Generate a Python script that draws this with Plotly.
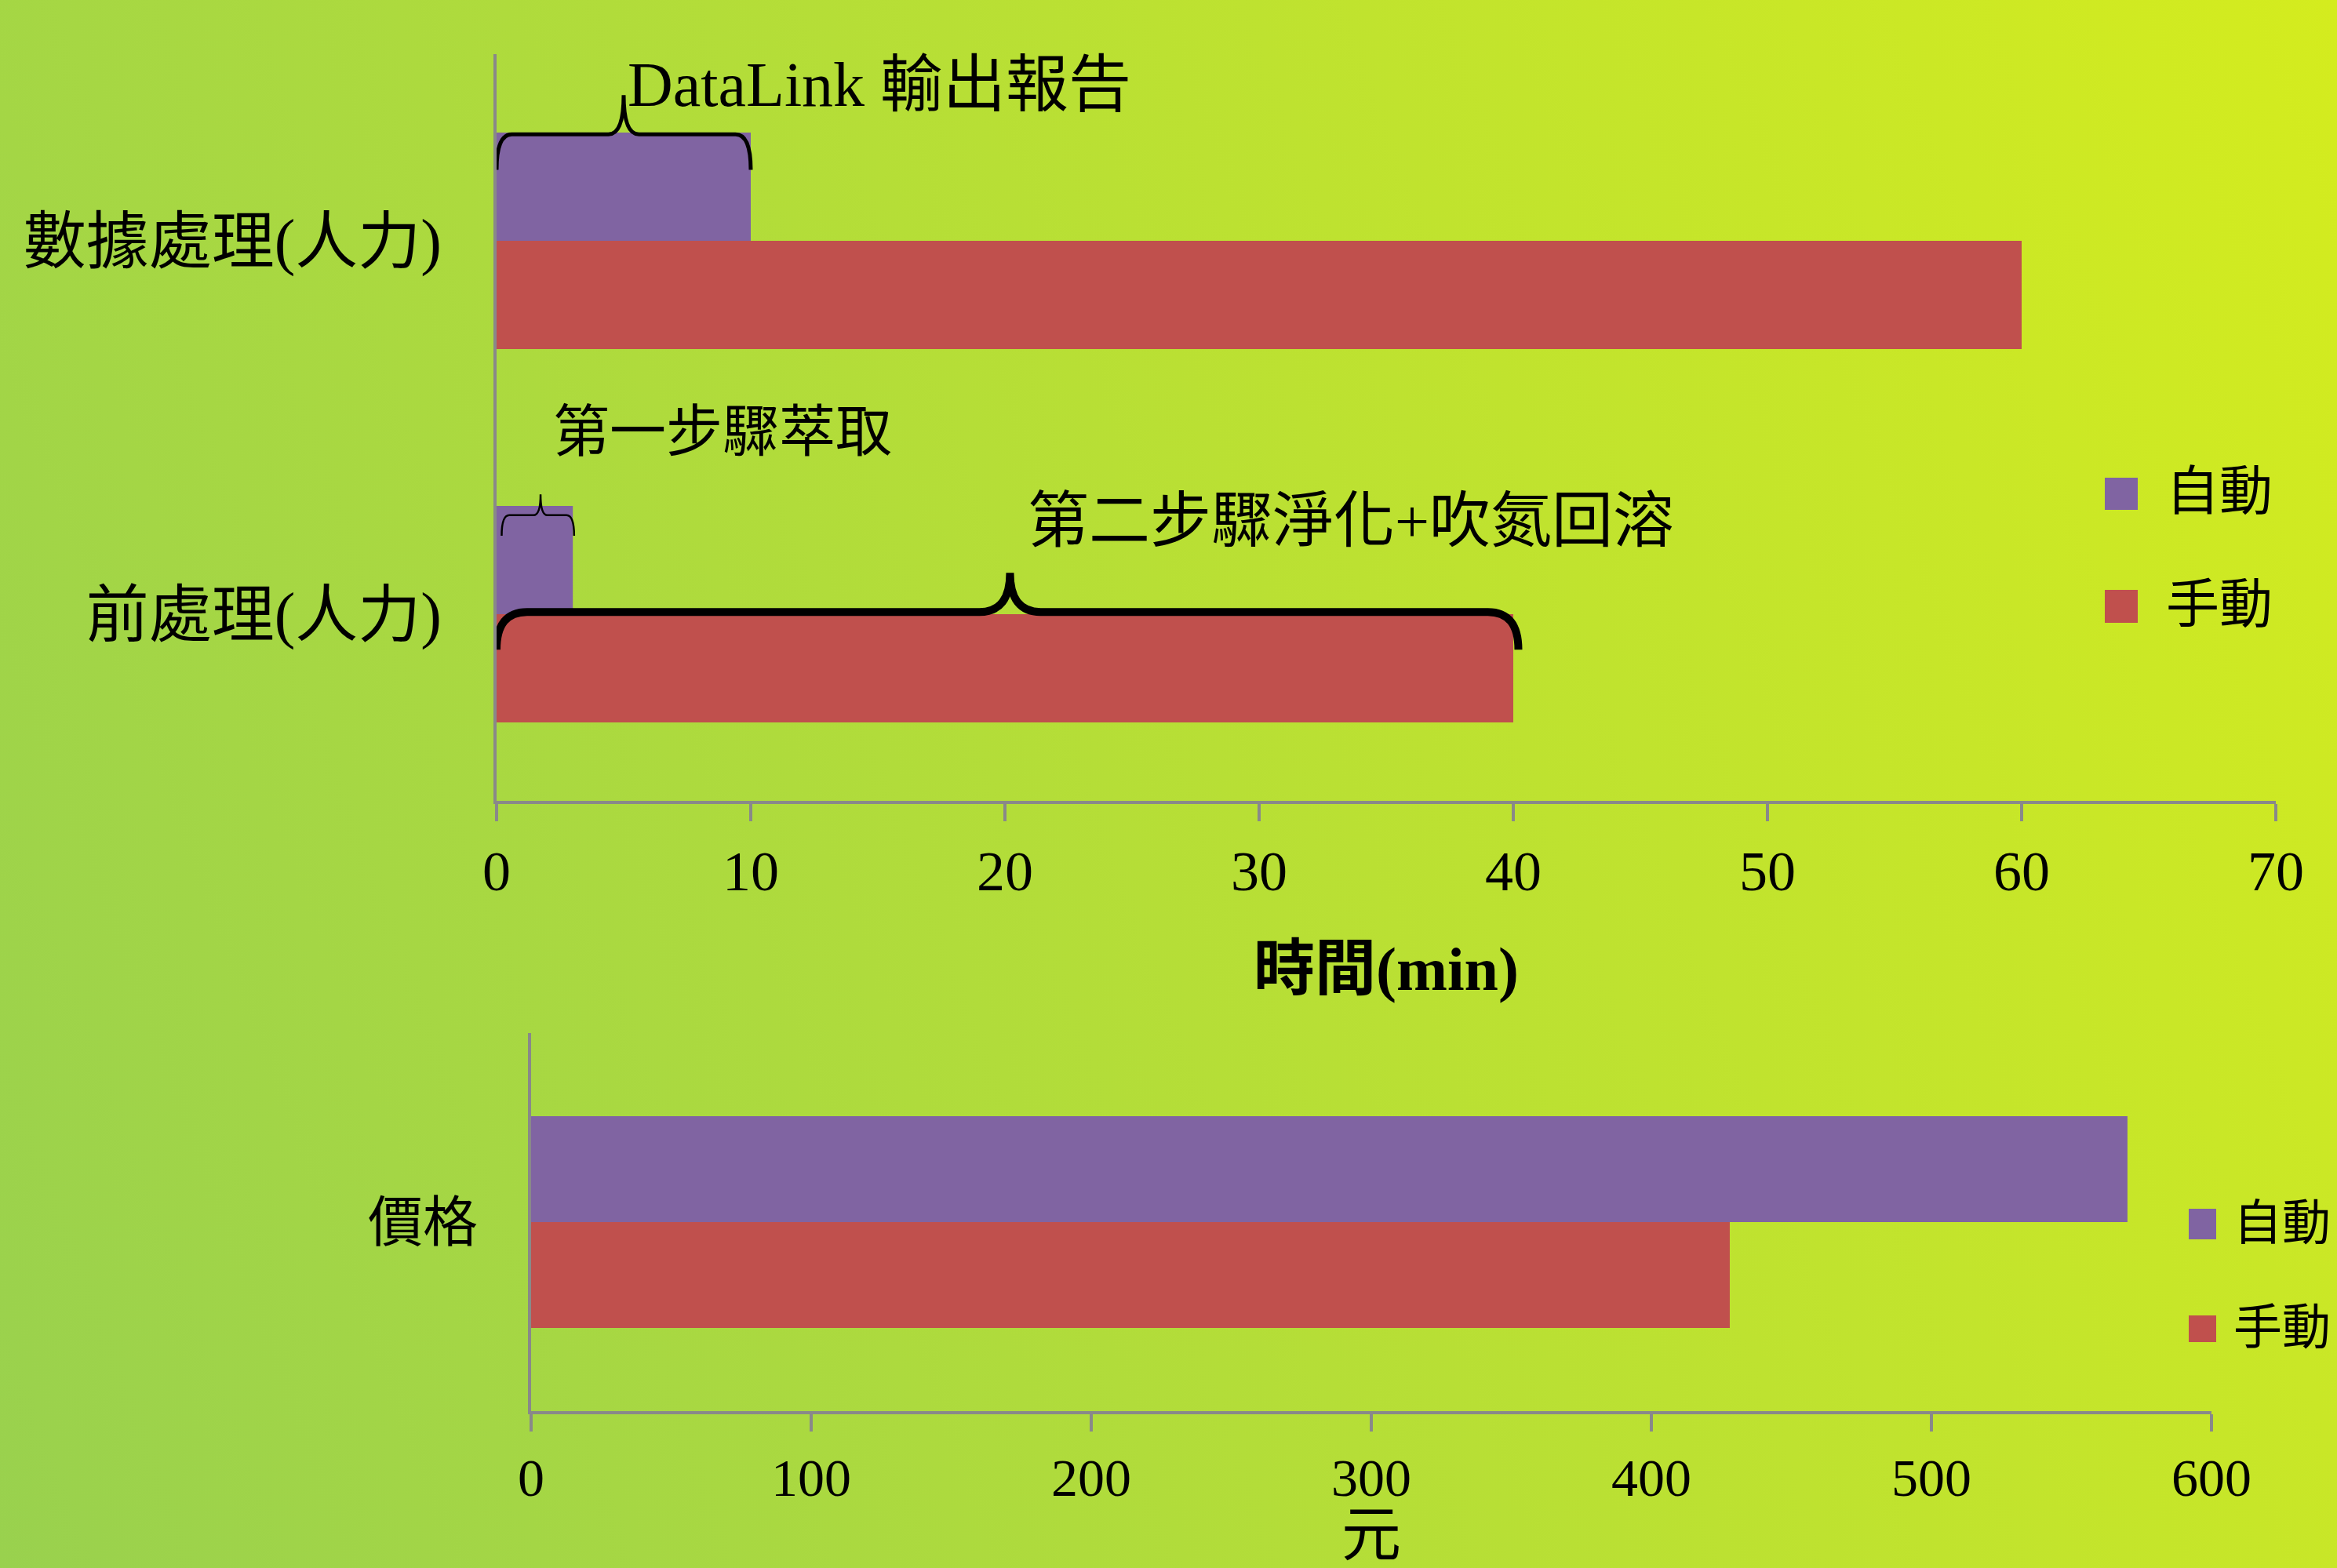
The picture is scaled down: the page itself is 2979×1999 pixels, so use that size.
import base64
import plotly.graph_objects as go

# 處理時間 (min)：類別由下而上
time_categories = ["前處理(人力)", "數據處理(人力)"]
time_auto = [3, 10]
time_manual = [40, 60]

# 價格 (元)
price_categories = ["價格"]
price_auto = [570]
price_manual = [428]

series_names = ["自動", "手動"]
series_colors = ["#8064A2", "#C0504D"]

time_ticks = [0, 10, 20, 30, 40, 50, 60, 70]
price_ticks = [0, 100, 200, 300, 400, 500, 600]

step_labels = ["DataLink 輸出報告", "第一步驟萃取", "第二步驟淨化+吹氮回溶"]

W, H = 2979, 1999
FONT = "Liberation Serif, 'Noto Sans CJK TC', serif"
AXIS_GRAY = "#898989"


def px_x(p):
    return p / W


def px_y(p):
    return 1 - p / H


fig = go.Figure()

# 上圖：處理時間
TW = 0.29
for name, color, vals, off in [
    (series_names[0], series_colors[0], time_auto, 0.0),
    (series_names[1], series_colors[1], time_manual, -TW),
]:
    fig.add_trace(go.Bar(
        x=vals, y=time_categories, orientation="h", name=name,
        width=TW, offset=off, marker=dict(color=color, line=dict(width=0)),
        xaxis="x", yaxis="y", showlegend=False, hoverinfo="x+y+name",
    ))

# 下圖：價格
PW = 0.28
for name, color, vals, off in [
    (series_names[0], series_colors[0], price_auto, 0.0),
    (series_names[1], series_colors[1], price_manual, -PW),
]:
    fig.add_trace(go.Bar(
        x=vals, y=price_categories, orientation="h", name=name,
        width=PW, offset=off, marker=dict(color=color, line=dict(width=0)),
        xaxis="x2", yaxis="y2", showlegend=False, hoverinfo="x+y+name",
    ))

axis_common = dict(
    showline=True, linecolor=AXIS_GRAY, linewidth=4, showgrid=False,
    zeroline=False, fixedrange=True, automargin=False,
)

fig.update_layout(
    width=W, height=H,
    margin=dict(l=0, r=0, t=0, b=0, autoexpand=False),
    paper_bgcolor="#b5de3a", plot_bgcolor="rgba(0,0,0,0)",
    barmode="overlay",
    font=dict(family=FONT, color="black"),
    xaxis=dict(
        domain=[px_x(633), px_x(2901)], anchor="y", range=[0, 70],
        tickmode="array", tickvals=time_ticks,
        ticks="outside", ticklen=22, tickwidth=4, tickcolor=AXIS_GRAY,
        tickfont=dict(size=72), ticklabelstandoff=2,
        title=dict(text="<b>時間(min)</b>", font=dict(size=78), standoff=58),
        **axis_common,
    ),
    yaxis=dict(
        domain=[px_y(1021), px_y(69)], anchor="x", type="category",
        categoryorder="array", categoryarray=time_categories, range=[-0.5, 1.5],
        ticks="", tickfont=dict(size=80), ticklabelstandoff=50,
        **axis_common,
    ),
    xaxis2=dict(
        domain=[px_x(677), px_x(2819)], anchor="y2", range=[0, 600],
        tickmode="array", tickvals=price_ticks,
        ticks="outside", ticklen=22, tickwidth=4, tickcolor=AXIS_GRAY,
        tickfont=dict(size=68), ticklabelstandoff=0,
        title=dict(text="元", font=dict(size=76), standoff=52),
        **axis_common,
    ),
    yaxis2=dict(
        domain=[px_y(1799), px_y(1317)], anchor="x2", type="category",
        categoryorder="array", categoryarray=price_categories, range=[-0.5, 0.5],
        ticks="", tickfont=dict(size=70), ticklabelstandoff=50,
        **axis_common,
    ),
)

# 漸層背景
svg = (
    '<svg xmlns="http://www.w3.org/2000/svg" width="2979" height="1999" '
    'viewBox="0 0 2979 1999" preserveAspectRatio="none"><defs>'
    '<linearGradient id="g" gradientUnits="userSpaceOnUse" x1="0" y1="1999" x2="3269" y2="781">'
    '<stop offset="0" stop-color="#99d14e"/><stop offset="1" stop-color="#d4ec1e"/>'
    '</linearGradient></defs><rect width="2979" height="1999" fill="url(#g)"/></svg>'
)
fig.add_layout_image(
    source="data:image/svg+xml;base64," + base64.b64encode(svg.encode()).decode(),
    xref="paper", yref="paper", x=0, y=1, sizex=1, sizey=1,
    xanchor="left", yanchor="top", sizing="stretch", layer="below",
)

# 大括號標示各步驟
braces = [
    ("M 0,1.19 Q 0,1.285 0.6,1.285 L 4.4,1.285 Q 5,1.285 5,1.39 "
     "Q 5,1.285 5.6,1.285 L 9.4,1.285 Q 10,1.285 10,1.19", 5),
    ("M 0.2,0.21 Q 0.2,0.265 0.5,0.265 L 1.45,0.265 Q 1.73,0.265 1.73,0.321 "
     "Q 1.73,0.265 2.0,0.265 L 2.75,0.265 Q 3.05,0.265 3.05,0.21", 2.5),
    ("M 0.0,-0.095 Q 0.0,0.006 1.2,0.006 L 19.0,0.006 Q 20.2,0.006 20.2,0.111 "
     "Q 20.2,0.006 21.4,0.006 L 39.0,0.006 Q 40.2,0.006 40.2,-0.095", 10),
]
for path, lw in braces:
    fig.add_shape(type="path", path=path, xref="x", yref="y",
                  line=dict(color="black", width=lw), layer="above")

for text, x, y, size in [
    (step_labels[0], 5.1, 1.418, 80),
    (step_labels[1], 2.16, 0.487, 72),
    (step_labels[2], 20.83, 0.248, 78),
]:
    fig.add_annotation(text=text, x=x, y=y, xref="x", yref="y",
                       xanchor="left", yanchor="middle", showarrow=False,
                       font=dict(size=size, color="black"))

# 圖例（上圖與下圖各一組）
legend_specs = [
    # (方塊 x0, x1, 各項 y0/y1, 文字 x, 文字中心 y, 字級)
    (2683, 2725, [(609, 650), (752, 794)], 2760, [627, 771], 68),
    (2790, 2825, [(1541, 1580), (1677, 1711)], 2846, [1560, 1693], 62),
]
for x0, x1, boxes, tx, tys, fs in legend_specs:
    for i, ((y0, y1), ty) in enumerate(zip(boxes, tys)):
        fig.add_shape(type="rect", xref="paper", yref="paper",
                      x0=px_x(x0), x1=px_x(x1), y0=px_y(y1), y1=px_y(y0),
                      fillcolor=series_colors[i], line=dict(width=0))
        fig.add_annotation(text=series_names[i], x=px_x(tx), y=px_y(ty),
                           xref="paper", yref="paper", xanchor="left",
                           yanchor="middle", showarrow=False, borderpad=0,
                           font=dict(size=fs, color="black"))

fig.write_html("out.html")
